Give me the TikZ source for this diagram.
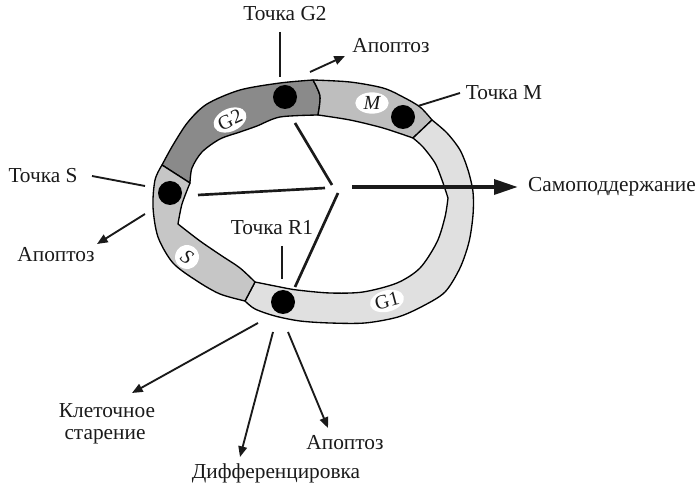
\documentclass[tikz,border=0pt]{standalone}
\usepackage{fontspec}
\setmainfont{Liberation Serif}
\usetikzlibrary{arrows.meta,shapes.geometric}

\definecolor{gtwocol}{HTML}{8A8A8A}
\definecolor{mcol}{HTML}{BEBEBE}
\definecolor{gonecol}{HTML}{E0E0E0}
\definecolor{scol}{HTML}{C6C6C6}
\definecolor{inkcol}{HTML}{1A1A1A}

\begin{document}
\begin{tikzpicture}[x=0.75pt,y=-0.75pt,
  ring/.style={draw=black,line width=1pt,line join=round},
  dot/.style={circle,fill=black,minimum size=18pt,inner sep=0pt},
  phase/.style={ellipse,fill=white,inner sep=0pt,text=inkcol,font=\fontsize{15}{15}\selectfont},
  lbl/.style={anchor=base,inner sep=0pt,text=inkcol,font=\fontsize{16}{19}\selectfont},
  lead/.style={line width=1.4pt,draw=inkcol},
  fate/.style={line width=1.4pt,draw=inkcol,-{Triangle[length=8pt,width=6.5pt]}},
  spoke/.style={line width=2pt,draw=inkcol},
]
\useasboundingbox (0,0) rectangle (700,484);

% ---- cell-cycle ring: four phase segments ----
% G2
\filldraw[ring,fill=gtwocol]
  plot[smooth] coordinates {(162,165) (173,145) (188,122) (207,104) (240,90) (280,83) (313,80)}
  -- plot[smooth] coordinates {(313,80) (320,96) (318,115)}
  -- plot[smooth] coordinates {(318,115) (280,117) (257,126) (240,132) (220,139) (202,152) (192,168) (190,183)}
  -- cycle;
% M
\filldraw[ring,fill=mcol]
  plot[smooth] coordinates {(313,80) (350,82) (383,88) (403,97) (420,107) (432,120)}
  -- (413,138)
  -- plot[smooth] coordinates {(413,138) (383,128) (350,120) (318,115)}
  -- plot[smooth] coordinates {(318,115) (320,96) (313,80)}
  -- cycle;
% G1
\filldraw[ring,fill=gonecol]
  plot[smooth] coordinates {(432,120) (447,133) (460,150) (468,170) (473,192) (473,215) (469,242) (460,268) (445,292) (423,306) (398,317) (365,323) (330,323) (300,321) (275,316) (255,309) (245,301)}
  -- (255,282)
  -- plot[smooth] coordinates {(255,282) (280,287) (297,290) (330,293) (363,292) (397,283) (420,268) (437,242) (445,217) (448,198)}
  -- plot[smooth] coordinates {(448,198) (442,180) (435,163) (423,147) (413,138)}
  -- cycle;
% S
\filldraw[ring,fill=scol]
  plot[smooth] coordinates {(162,165) (155,180) (153,207) (158,237) (173,263) (197,281) (220,294) (245,301)}
  -- (255,282)
  -- plot[smooth] coordinates {(255,282) (240,268) (222,256) (200,241) (178,224)}
  -- plot[smooth] coordinates {(178,224) (182,204) (190,183)}
  -- cycle;

% checkpoints
\node[dot] (dg2) at (285,97) {};
\node[dot] (dm)  at (403,117) {};
\node[dot] (ds)  at (170,193) {};
\node[dot] (dr1) at (283,302) {};

% phase labels
\node[phase,rotate=25,minimum width=25pt,minimum height=17pt] (pg2) at (230,120) {G2};
\node[phase,minimum width=25pt,minimum height=16pt] (pm) at (372,103) {\itshape M};
\node[phase,rotate=-35,minimum width=18pt,minimum height=18pt] (ps) at (187,257) {\itshape S};
\node[phase,rotate=15,minimum width=25pt,minimum height=16pt] (pg1) at (387,301) {G1};

% ---- central hub ----
\coordinate (hg2a) at (295,123); \coordinate (hg2b) at (332,185);
\coordinate (hsa)  at (198,195); \coordinate (hsb)  at (325,188);
\coordinate (hra)  at (338,193); \coordinate (hrb)  at (295,287);
\coordinate (hea)  at (352,187); \coordinate (heb)  at (518,187);
\draw[spoke] (hg2a) -- (hg2b);
\draw[spoke] (hsa) -- (hsb);
\draw[spoke] (hra) -- (hrb);
\draw[line width=3.2pt,draw=inkcol,-{Triangle[length=18pt,width=11pt]}] (hea) -- (heb);

% ---- text labels ----
\node[lbl] (tg2)  at (285,21)  {Точка G2};
\node[lbl] (apo1) at (391,53)  {Апоптоз};
\node[lbl] (tm)   at (504,100) {Точка M};
\node[lbl] (self) at (612,192) {Самоподдержание};
\node[lbl] (ts)   at (43,183)  {Точка S};
\node[lbl] (apo2) at (56,262)  {Апоптоз};
\node[lbl] (tr1)  at (272,235) {Точка R1};
\node[lbl] (sen1) at (107,418) {Клеточное};
\node[lbl] (sen2) at (105,440) {старение};
\node[lbl] (apo3) at (345,450) {Апоптоз};
\node[lbl] (diff) at (276,479) {Дифференцировка};

% ---- leader lines ----
\coordinate (lg2a) at (280,32);  \coordinate (lg2b) at (280,77);
\coordinate (lma)  at (418,106); \coordinate (lmb)  at (460,93);
\coordinate (lsa)  at (92,176);  \coordinate (lsb)  at (145,186);
\coordinate (lra)  at (282,246); \coordinate (lrb)  at (282,279);
\draw[lead] (lg2a) -- (lg2b);
\draw[lead] (lma) -- (lmb);
\draw[lead] (lsa) -- (lsb);
\draw[lead] (lra) -- (lrb);

% ---- cell fates ----
\coordinate (fa1) at (310,72);  \coordinate (fb1) at (345,56);
\coordinate (fa2) at (145,214); \coordinate (fb2) at (97,244);
\coordinate (fa3) at (258,323); \coordinate (fb3) at (132,393);
\coordinate (fa4) at (273,332); \coordinate (fb4) at (240,457);
\coordinate (fa5) at (288,332); \coordinate (fb5) at (328,428);
\draw[fate] (fa1) -- (fb1);
\draw[fate] (fa2) -- (fb2);
\draw[fate] (fa3) -- (fb3);
\draw[fate] (fa4) -- (fb4);
\draw[fate] (fa5) -- (fb5);
\end{tikzpicture}
\end{document}
